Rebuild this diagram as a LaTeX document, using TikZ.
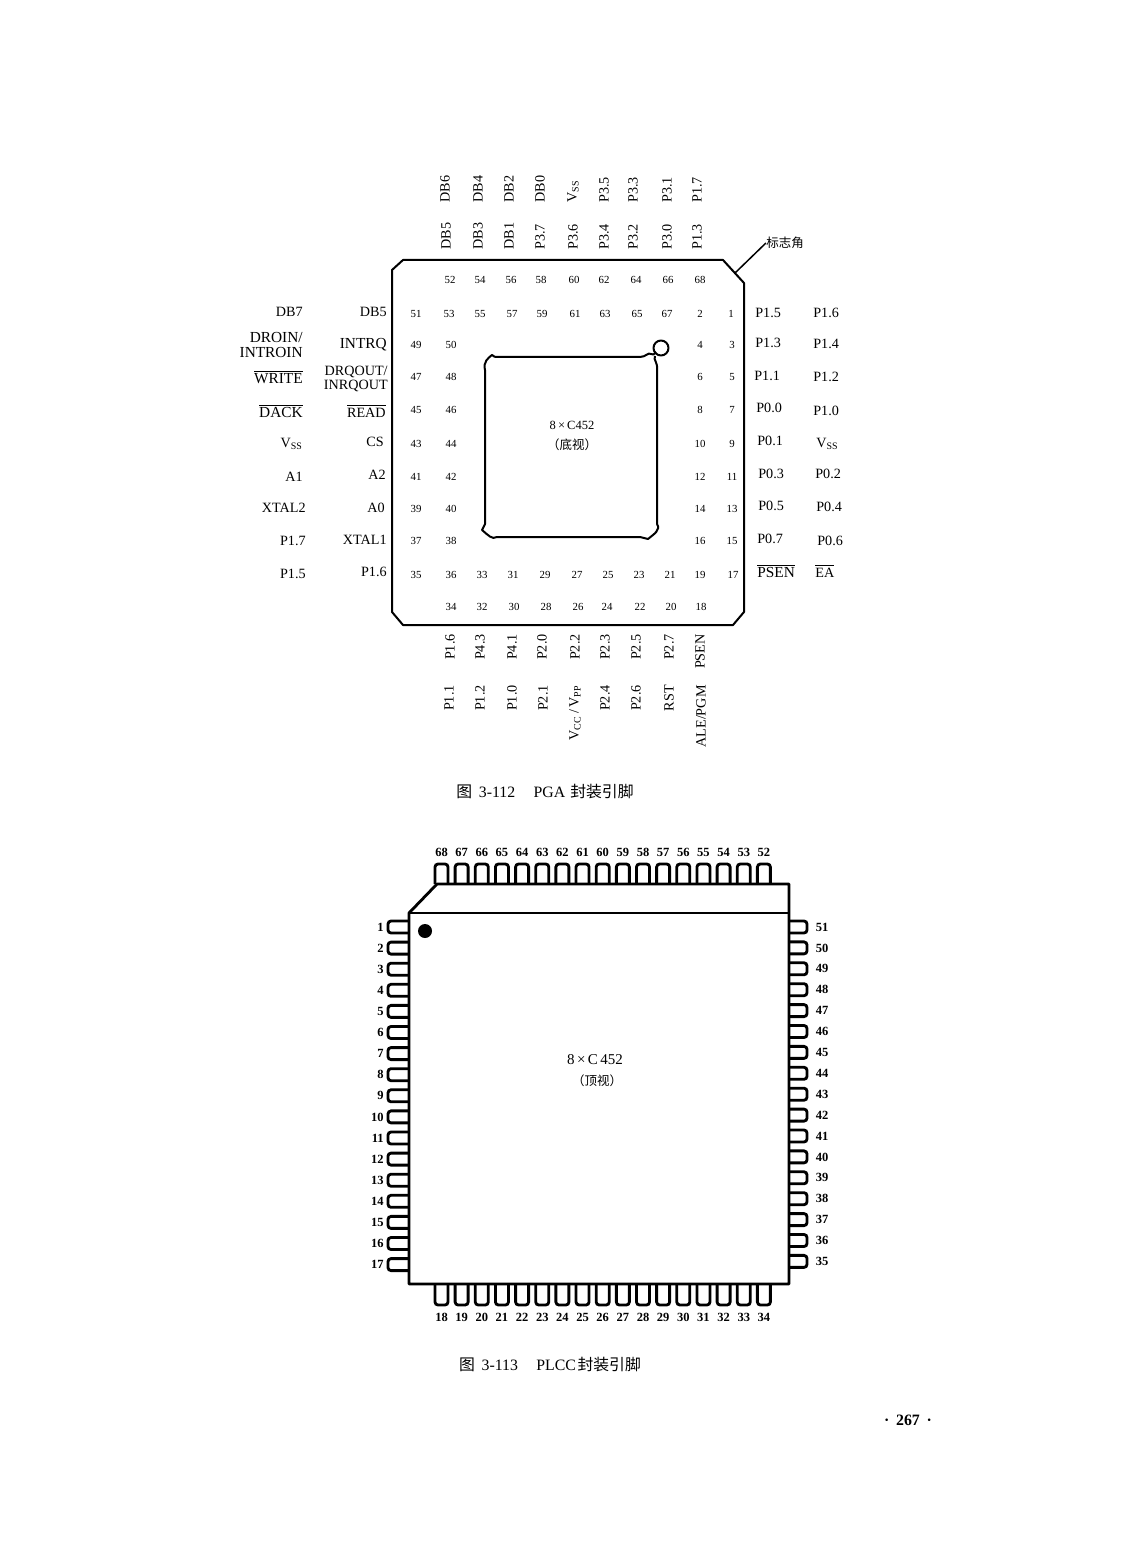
\documentclass[tikz,border=0pt]{standalone}
\usepackage{fontspec}
\setmainfont{Liberation Serif}
\newfontfamily\cjk{Noto Sans CJK SC}
\newcommand{\vsspin}{V\textsubscript{SS}}
\newcommand{\ovl}[1]{$\overline{\mbox{#1}}$}
\tikzset{
	gridnum/.style={inner sep=0pt, font=\fontsize{6.5}{7}\selectfont},
	pinname/.style={inner sep=0pt, font=\fontsize{8.5}{8.5}\selectfont},
	widename/.style={font=\fontsize{9.2}{8.5}\selectfont},
	namel/.style={pinname, anchor=east, align=right},
	namer/.style={pinname, anchor=west},
	nameup/.style={pinname, rotate=90, anchor=west},
	namedown/.style={pinname, rotate=90, anchor=east},
	legnum/.style={inner sep=0pt, font=\fontsize{7.5}{8}\selectfont\bfseries},
	caption/.style={inner sep=0pt, font=\fontsize{9.5}{10}\selectfont},
	chiptext/.style={inner sep=0pt, font=\fontsize{7.5}{9}\selectfont},
	pgaline/.style={line width=1.2pt, line join=round},
	plccline/.style={line width=1.7pt, line join=round},
	legline/.style={line width=1.7pt, rounded corners=1.8pt}
}
\begin{document}
\begin{tikzpicture}[x=0.6pt, y=-0.6pt]
\useasboundingbox (0,0) rectangle (1122,1568);

% PGA
\draw[pgaline] (403,260) -- (723,260) -- (744,283) -- (744,612) -- (733,625)
	-- (403,625) -- (392,612) -- (392,270) -- cycle;
\draw[pgaline] (495,357) -- (640,357) .. controls (646,357) and (648,352) .. (651,354)
	.. controls (653,356) and (654,354) .. (656,352);
\draw[pgaline] (655,356) .. controls (653,360) and (658,362) .. (657,370)
	-- (657,524) .. controls (661,530) and (654,534) .. (648,539) -- (640,537) -- (497,537)
	.. controls (492,540) and (488,535) .. (482,530) -- (485,524) -- (485,370)
	.. controls (483,362) and (488,358) .. (492,355) -- (495,357);
\node[circle, draw, pgaline, minimum size=9pt, inner sep=0pt] (mark) at (661,348) {};

\coordinate (cornermark) at (735,273);
\node[inner sep=0pt, font=\fontsize{7.5}{9}\selectfont\cjk] (marktext) at (785,243) {标志角};
\draw[line width=0.9pt] (cornermark) -- (marktext.west);

\node[chiptext] (pgatype) at (572,425) {8\,×\,C452};
\node[chiptext] (pgaview) at (572,445) {\cjk （底视）};

\foreach \n/\xp in {52/450,54/480,56/511,58/541,60/574,62/604,64/636,66/668,68/700}
	\node[gridnum] (g\n) at (\xp,280) {\n};
\foreach \n/\xp in {51/416,53/449,55/480,57/512,59/542,61/575,63/605,65/637,67/667,2/700,1/731}
	\node[gridnum] (g\n) at (\xp,314) {\n};
\foreach \a/\b/\c/\d/\yp in {49/50/4/3/345,47/48/6/5/377,45/46/8/7/410,43/44/10/9/444,41/42/12/11/477,39/40/14/13/509,37/38/16/15/541} {
	\node[gridnum] (g\a) at (416,\yp) {\a};
	\node[gridnum] (g\b) at (451,\yp) {\b};
	\node[gridnum] (g\c) at (700,\yp) {\c};
	\node[gridnum] (g\d) at (732,\yp) {\d};
}
\foreach \n/\xp in {35/416,36/451,33/482,31/513,29/545,27/577,25/608,23/639,21/670,19/700,17/733}
	\node[gridnum] (g\n) at (\xp,575) {\n};
\foreach \n/\xp in {34/451,32/482,30/514,28/546,26/578,24/607,22/640,20/671,18/701}
	\node[gridnum] (g\n) at (\xp,607) {\n};

\foreach \t/\xp [count=\i] in {DB6/445,DB4/478,DB2/509,DB0/540,\vsspin/573,P3.5/604,P3.3/633,P3.1/667,P1.7/697}
	\node[nameup] (topa\i) at (\xp,203) {\t};
\foreach \t/\xp [count=\i] in {DB5/446,DB3/478,DB1/509,P3.7/540,P3.6/573,P3.4/604,P3.2/633,P3.0/667,P1.3/697}
	\node[nameup] (topb\i) at (\xp,250) {\t};
\foreach \t/\xp [count=\i] in {P1.6/450,P4.3/480,P4.1/512,P2.0/542,P2.2/575,P2.3/605,P2.5/636,P2.7/669,PSEN/700}
	\node[namedown] (bota\i) at (\xp,634) {\t};
\foreach \t/\xp [count=\i] in {P1.1/449,P1.2/480,P1.0/512,P2.1/543,{V\textsubscript{CC}\,/\,V\textsubscript{PP}}/575,P2.4/605,P2.6/636,RST/669,{ALE/PGM}/701}
	\node[namedown] (botb\i) at (\xp,685) {\t};

\node[namel] (la1) at (303,312) {DB7};
\node[namel, widename] (la2) at (303,345) {DROIN/\\INTROIN};
\node[namel, widename] (la3) at (303,377) {\ovl{WRITE}};
\node[namel, widename] (la4) at (303,411) {\ovl{DACK}};
\node[namel] (la5) at (303,444) {\vsspin};
\node[namel] (la6) at (303,477) {A1};
\node[namel] (la7) at (306,508) {XTAL2};
\node[namel] (la8) at (306,541) {P1.7};
\node[namel] (la9) at (306,574) {P1.5};
\node[namel] (lb1) at (387,312) {DB5};
\node[namel, widename] (lb2) at (387,345) {INTRQ};
\node[namel] (lb3) at (388,379) {DRQOUT/\\INRQOUT};
\node[namel] (lb4) at (386,411) {\ovl{READ}};
\node[namel] (lb5) at (384,442) {CS};
\node[namel] (lb6) at (386,475) {A2};
\node[namel] (lb7) at (385,508) {A0};
\node[namel] (lb8) at (387,540) {XTAL1};
\node[namel] (lb9) at (387,572) {P1.6};

\foreach \t/\xp/\yp [count=\i] in {P1.5/755/313,P1.3/755/343,P1.1/754/376,P0.0/756/408,P0.1/757/441,P0.3/758/474,P0.5/758/506,P0.7/757/539}
	\node[namer] (ra\i) at (\xp,\yp) {\t};
\node[namer, widename] (ra9) at (757,571) {\ovl{PSEN}};
\foreach \t/\xp/\yp [count=\i] in {P1.6/813/313,P1.4/813/344,P1.2/813/377,P1.0/813/411,\vsspin/816/444,P0.2/815/474,P0.4/816/507,P0.6/817/541,\ovl{EA}/815/571}
	\node[namer] (rb\i) at (\xp,\yp) {\t};

\node[caption] (pgacap) at (545,792) {{\cjk 图}\hspace{4pt}3-112\hspace{11pt}PGA\hspace{3pt}{\cjk 封装引脚}};

% PLCC
\draw[plccline] (437,884) -- (789,884) -- (789,1284) -- (409,1284) -- (409,913) -- cycle;
\draw[plccline] (409,913) -- (789,913);
\fill (425,931) circle (7);

\node[chiptext, font=\fontsize{9}{9}\selectfont] (plcctype) at (595,1060) {8\,×\,C\,452};
\node[chiptext] (plccview) at (597,1081) {\cjk （顶视）};

\foreach \n [evaluate=\n as \xp using {441.5+20.15*(68-\n)}] in {68,67,...,52} {
	\draw[legline] (\xp-6.5,884) -- (\xp-6.5,864) -- (\xp+6.5,864) -- (\xp+6.5,884);
	\node[legnum] (t\n) at (\xp,852) {\n};
}
\foreach \n [evaluate=\n as \xp using {441.5+20.15*(\n-18)}] in {18,19,...,34} {
	\draw[legline] (\xp-6.5,1284) -- (\xp-6.5,1305) -- (\xp+6.5,1305) -- (\xp+6.5,1284);
	\node[legnum] (b\n) at (\xp,1317) {\n};
}
\foreach \n [evaluate=\n as \yp using {927+21.1*(\n-1)}] in {1,2,...,17} {
	\draw[legline] (409,\yp-6) -- (388,\yp-6) -- (388,\yp+6) -- (409,\yp+6);
	\node[legnum, anchor=east] (l\n) at (384,\yp) {\n};
}
\foreach \n [evaluate=\n as \yp using {927+20.9*(51-\n)}] in {51,50,...,35} {
	\draw[legline] (789,\yp-6) -- (807,\yp-6) -- (807,\yp+6) -- (789,\yp+6);
	\node[legnum] (r\n) at (822,\yp) {\n};
}

\node[caption] (plcccap) at (550,1365) {{\cjk 图}\hspace{4pt}3-113\hspace{11pt}PLCC\hspace{1pt}{\cjk 封装引脚}};

\node[inner sep=0pt, font=\fontsize{9.5}{10}\selectfont\bfseries] (pagenum) at (908,1420) {·\hspace{4pt}267\hspace{4pt}·};
\end{tikzpicture}
\end{document}
